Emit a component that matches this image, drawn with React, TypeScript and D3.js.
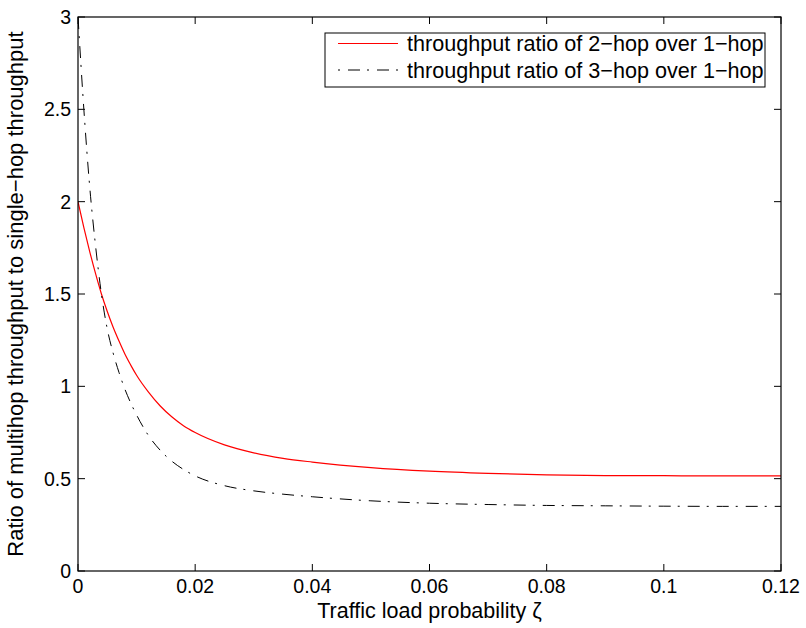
import React from "react";
import * as d3 from "d3";

const xValues = [0, 0.001, 0.002, 0.003, 0.004, 0.005, 0.006, 0.007, 0.008, 0.009, 0.010, 0.012, 0.014, 0.016, 0.018, 0.020, 0.025, 0.030, 0.035, 0.040, 0.050, 0.060, 0.070, 0.080, 0.090, 0.100, 0.110, 0.120];
const ratio2hop = [2.0, 1.86, 1.73, 1.61, 1.50, 1.405, 1.32, 1.245, 1.175, 1.115, 1.06, 0.97, 0.895, 0.835, 0.787, 0.75, 0.683, 0.64, 0.61, 0.59, 0.56, 0.541, 0.529, 0.521, 0.517, 0.516, 0.515, 0.515];
const ratio3hop = [3.0, 2.5, 2.08, 1.76, 1.5, 1.31, 1.18, 1.075, 0.985, 0.91, 0.845, 0.735, 0.655, 0.595, 0.55, 0.515, 0.462, 0.434, 0.416, 0.402, 0.38, 0.367, 0.36, 0.355, 0.353, 0.351, 0.35, 0.35];
const xTicks = [0, 0.02, 0.04, 0.06, 0.08, 0.1, 0.12];
const xTickLabels = ["0", "0.02", "0.04", "0.06", "0.08", "0.1", "0.12"];
const yTicks = [0, 0.5, 1, 1.5, 2, 2.5, 3];
const yTickLabels = ["0", "0.5", "1", "1.5", "2", "2.5", "3"];
const legendLabels = ["throughput ratio of 2\u2212hop over 1\u2212hop", "throughput ratio of 3\u2212hop over 1\u2212hop"];

const W = 806, H = 628;
const L = 78, R = 781, T = 17, B = 571;
const FONT = "'Liberation Sans', Arial, Helvetica, sans-serif";

export default function App() {
  const x = d3.scaleLinear().domain([0, 0.12]).range([L, R]);
  const y = d3.scaleLinear().domain([0, 3]).range([B, T]);
  const line = d3.line<number>().x((_, i) => x(xValues[i])).y((d) => y(d)).curve(d3.curveMonotoneX);
  const tk = 7;
  return (
    <svg width={W} height={H} style={{ position: "absolute", left: 0, top: 0, background: "#fff" }} fontFamily={FONT}>
      <rect x={0} y={0} width={W} height={H} fill="#fff" />
      <defs>
        <clipPath id="plot"><rect x={L} y={T} width={R - L} height={B - T} /></clipPath>
      </defs>
      <g clipPath="url(#plot)">
        <path d={line(ratio2hop) || ""} fill="none" stroke="#ff0000" strokeWidth={1.2} />
        <path d={line(ratio3hop) || ""} fill="none" stroke="#000" strokeWidth={1} strokeDasharray="12 7 2 8" />
      </g>
      {xTicks.map((t, i) => (
        <g key={"x" + i}>
          <line x1={x(t)} x2={x(t)} y1={B} y2={B - tk} stroke="#000" />
          <line x1={x(t)} x2={x(t)} y1={T} y2={T + tk} stroke="#000" />
          <text x={x(t)} y={593} fontSize={19.5} textAnchor="middle">{xTickLabels[i]}</text>
        </g>
      ))}
      {yTicks.map((t, i) => (
        <g key={"y" + i}>
          <line x1={L} x2={L + tk} y1={y(t)} y2={y(t)} stroke="#000" />
          <line x1={R} x2={R - tk} y1={y(t)} y2={y(t)} stroke="#000" />
          <text x={71} y={y(t) + 7} fontSize={19.5} textAnchor="end">{yTickLabels[i]}</text>
        </g>
      ))}
      <rect x={L} y={T} width={R - L} height={B - T} fill="none" stroke="#000" strokeWidth={1.2} />
      <text x={(L + R) / 2} y={618} fontSize={21.5} textAnchor="middle">Traffic load probability ζ</text>
      <text transform={`translate(23,${(T + B) / 2}) rotate(-90)`} fontSize={22} textAnchor="middle">Ratio of multihop throughput to single−hop throughput</text>
      <g>
        <rect x={325} y={33} width={440} height={54} fill="#fff" stroke="#000" strokeWidth={1} />
        <line x1={338} x2={398} y1={43.5} y2={43.5} stroke="#ff0000" strokeWidth={1.2} />
        <line x1={338} x2={398} y1={70} y2={70} stroke="#000" strokeWidth={1} strokeDasharray="2 8 12 7" />
        <text x={407} y={51} fontSize={21.6} >{legendLabels[0]}</text>
        <text x={407} y={78} fontSize={21.6} >{legendLabels[1]}</text>
      </g>
    </svg>
  );
}
